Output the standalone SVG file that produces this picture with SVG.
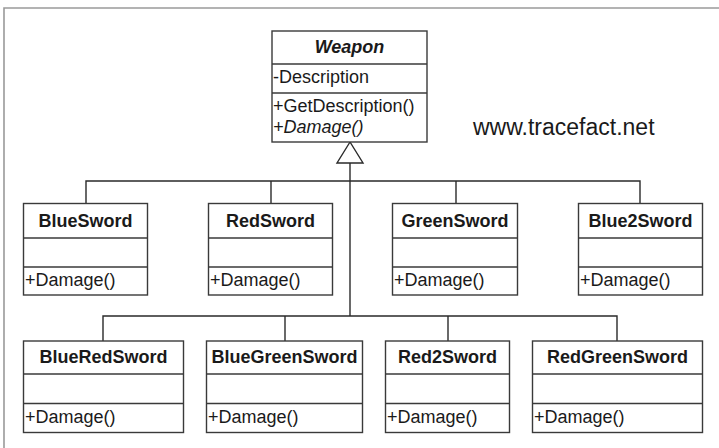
<svg xmlns="http://www.w3.org/2000/svg" width="719" height="448" viewBox="0 0 719 448">
  <style>
    .box { fill: #ffffff; stroke: #3a3a3a; stroke-width: 1.4; }
    .sep { stroke: #3a3a3a; stroke-width: 1.4; }
    .wire { fill: none; stroke: #2a2a2a; stroke-width: 1.4; }
    .frame { fill: none; stroke: #9a9a9a; stroke-width: 1.6; }
    .title { font-family: "Liberation Sans", Arial, sans-serif; font-size: 18px; font-weight: bold; fill: #1a1a1a; text-anchor: middle; }
    .member { font-family: "Liberation Sans", Arial, sans-serif; font-size: 18px; fill: #1a1a1a; }
    .url { font-family: "Liberation Sans", Arial, sans-serif; font-size: 23px; fill: #1a1a1a; }
  </style>
  <rect width="719" height="448" fill="#ffffff"/>
  <path class="frame" d="M4,448 V8 H719"/>

  <!-- inheritance connectors -->
  <g id="connectors">
    <path class="wire" d="M350,163 V316"/>
    <path class="wire" d="M86,203 V181 H640 V203"/>
    <path class="wire" d="M271,181 V203"/>
    <path class="wire" d="M456,181 V203"/>
    <path class="wire" d="M103,341 V316 H617 V341"/>
    <path class="wire" d="M285,316 V341"/>
    <path class="wire" d="M448,316 V341"/>
    <polygon points="350,142 337,163 363,163" fill="#ffffff" stroke="#2a2a2a" stroke-width="1.4"/>
  </g>

  <g id="Weapon">
    <rect class="box" x="272" y="31" width="155" height="111"/>
    <line class="sep" x1="272" y1="64" x2="427" y2="64"/>
    <line class="sep" x1="272" y1="93" x2="427" y2="93"/>
    <text class="title" x="349.5" y="53" font-style="italic">Weapon</text>
    <text class="member" x="273" y="83">-Description</text>
    <text class="member" x="273" y="112">+GetDescription()</text>
    <text class="member" x="273" y="133" font-style="italic">+Damage()</text>
  </g>

  <text class="url" x="473" y="135">www.tracefact.net</text>

  <g id="BlueSword">
    <rect class="box" x="23.5" y="203.5" width="124" height="91.5"/>
    <line class="sep" x1="23.5" y1="238" x2="147.5" y2="238"/>
    <line class="sep" x1="23.5" y1="267" x2="147.5" y2="267"/>
    <text class="title" x="85.5" y="227">BlueSword</text>
    <text class="member" x="25" y="286">+Damage()</text>
  </g>

  <g id="RedSword">
    <rect class="box" x="208.5" y="203.5" width="124" height="91.5"/>
    <line class="sep" x1="208.5" y1="238" x2="332.5" y2="238"/>
    <line class="sep" x1="208.5" y1="267" x2="332.5" y2="267"/>
    <text class="title" x="270.5" y="227">RedSword</text>
    <text class="member" x="210" y="286">+Damage()</text>
  </g>

  <g id="GreenSword">
    <rect class="box" x="392.5" y="203.5" width="125" height="91.5"/>
    <line class="sep" x1="392.5" y1="238" x2="517.5" y2="238"/>
    <line class="sep" x1="392.5" y1="267" x2="517.5" y2="267"/>
    <text class="title" x="455" y="227">GreenSword</text>
    <text class="member" x="394" y="286">+Damage()</text>
  </g>

  <g id="Blue2Sword">
    <rect class="box" x="578.5" y="203.5" width="124" height="91.5"/>
    <line class="sep" x1="578.5" y1="238" x2="702.5" y2="238"/>
    <line class="sep" x1="578.5" y1="267" x2="702.5" y2="267"/>
    <text class="title" x="640.5" y="227">Blue2Sword</text>
    <text class="member" x="580" y="286">+Damage()</text>
  </g>

  <g id="BlueRedSword">
    <rect class="box" x="23.5" y="341" width="160" height="91.5"/>
    <line class="sep" x1="23.5" y1="374" x2="183.5" y2="374"/>
    <line class="sep" x1="23.5" y1="403.5" x2="183.5" y2="403.5"/>
    <text class="title" x="103.5" y="363">BlueRedSword</text>
    <text class="member" x="25" y="423">+Damage()</text>
  </g>

  <g id="BlueGreenSword">
    <rect class="box" x="206.5" y="341" width="156" height="91.5"/>
    <line class="sep" x1="206.5" y1="374" x2="362.5" y2="374"/>
    <line class="sep" x1="206.5" y1="403.5" x2="362.5" y2="403.5"/>
    <text class="title" x="284.5" y="363">BlueGreenSword</text>
    <text class="member" x="208" y="423">+Damage()</text>
  </g>

  <g id="Red2Sword">
    <rect class="box" x="385.5" y="341" width="124" height="91.5"/>
    <line class="sep" x1="385.5" y1="374" x2="509.5" y2="374"/>
    <line class="sep" x1="385.5" y1="403.5" x2="509.5" y2="403.5"/>
    <text class="title" x="447.5" y="363">Red2Sword</text>
    <text class="member" x="387" y="423">+Damage()</text>
  </g>

  <g id="RedGreenSword">
    <rect class="box" x="532.5" y="341" width="170" height="91.5"/>
    <line class="sep" x1="532.5" y1="374" x2="702.5" y2="374"/>
    <line class="sep" x1="532.5" y1="403.5" x2="702.5" y2="403.5"/>
    <text class="title" x="617.5" y="363">RedGreenSword</text>
    <text class="member" x="534" y="423">+Damage()</text>
  </g>
</svg>
